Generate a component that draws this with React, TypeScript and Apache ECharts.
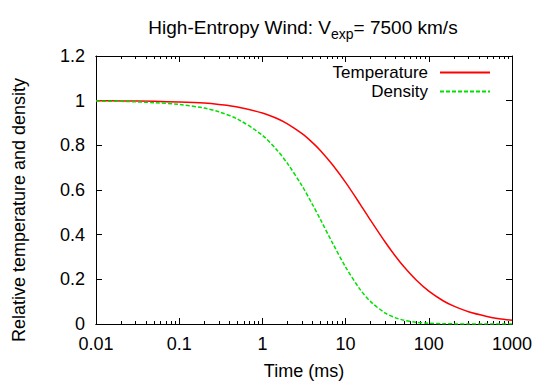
import React, { useEffect, useRef } from "react";
import * as echarts from "echarts";

const timeMs = [0.01, 0.02, 0.05, 0.1, 0.2, 0.3, 0.5, 1, 1.5, 2, 3, 4, 5, 7, 10, 15, 20, 30, 40, 50, 70, 100, 150, 200, 300, 500, 700, 1000];
const temperature = [0.9995, 0.999, 0.997, 0.994, 0.989, 0.983, 0.972, 0.945, 0.92, 0.896, 0.852, 0.812, 0.776, 0.712, 0.634, 0.536, 0.464, 0.366, 0.302, 0.257, 0.198, 0.147, 0.103, 0.08, 0.055, 0.034, 0.024, 0.017];
const density = [0.998, 0.997, 0.991, 0.983, 0.967, 0.95, 0.918, 0.845, 0.778, 0.719, 0.618, 0.535, 0.467, 0.361, 0.255, 0.154, 0.1, 0.049, 0.0275, 0.017, 0.0078, 0.0032, 0.0011, 0.0005, 0.00017, 0.00004, 0.000014, 0.000005];
const minorTicks = [
  0.02, 0.03, 0.04, 0.05, 0.06, 0.07, 0.08, 0.09,
  0.2, 0.3, 0.4, 0.5, 0.6, 0.7, 0.8, 0.9,
  2, 3, 4, 5, 6, 7, 8, 9,
  20, 30, 40, 50, 60, 70, 80, 90,
  200, 300, 400, 500, 600, 700, 800, 900,
];
const majorTicks = [0.01, 0.1, 1, 10, 100, 1000];

const FONT = "'Liberation Sans', Arial, sans-serif";

export default function App() {
  const ref = useRef<HTMLDivElement>(null);
  useEffect(() => {
    if (!ref.current) return;
    const chart = echarts.init(ref.current, null, { renderer: "svg" });
    const fmt = (v: number) => String(+Number(v).toPrecision(6));
    const baseX = {
      type: "log" as const,
      logBase: 10,
      min: 0.01,
      max: 1000,
      splitLine: { show: false },
      axisLine: { show: true, lineStyle: { color: "#000", width: 1 } },
    };
    const option: any = {
      animation: false,
      textStyle: { fontFamily: FONT },
      title: {
        text: "{a|High-Entropy Wind: V}{sub|exp}{a|= 7500 km/s}",
        left: 298,
        top: 13,
        textAlign: "center",
        textStyle: {
          fontWeight: "normal",
          rich: {
            a: { fontSize: 19, lineHeight: 19, verticalAlign: "top", color: "#000", fontFamily: FONT, fontWeight: "normal" },
            sub: { fontSize: 14, lineHeight: 14, verticalAlign: "top", padding: [9, 0, 0, 0], color: "#000", fontFamily: FONT, fontWeight: "normal" },
          },
        },
      },
      legend: {
        orient: "vertical",
        right: 49,
        top: 59,
        align: "right",
        itemWidth: 50,
        itemHeight: 16,
        itemGap: 2,
        itemStyle: { opacity: 0 },
        textStyle: { fontSize: 17, lineHeight: 16, color: "#000", fontFamily: FONT, padding: [0, 7, 0, 0] },
        data: ["Temperature", "Density"],
      },
      grid: { left: 96, right: 33, top: 56, bottom: 58, containLabel: false, outerBoundsMode: "none" },
      xAxis: [
        {
          ...baseX,
          position: "bottom",
          name: "Time (ms)",
          nameLocation: "middle",
          nameGap: 38,
          nameTextStyle: { fontSize: 18, color: "#000", fontFamily: FONT },
          axisTick: { show: true, inside: true, length: 6, lineStyle: { color: "#000" }, customValues: majorTicks },
          axisLabel: { show: true, fontSize: 18, color: "#000", margin: 11, formatter: fmt, customValues: majorTicks, fontFamily: FONT },
        },
        {
          ...baseX,
          position: "bottom",
          axisTick: { show: true, inside: true, length: 3, lineStyle: { color: "#000" }, customValues: minorTicks },
          axisLabel: { show: false },
        },
        {
          ...baseX,
          position: "top",
          axisTick: { show: true, inside: true, length: 6, lineStyle: { color: "#000" }, customValues: majorTicks },
          axisLabel: { show: false },
        },
        {
          ...baseX,
          position: "top",
          axisTick: { show: true, inside: true, length: 3, lineStyle: { color: "#000" }, customValues: minorTicks },
          axisLabel: { show: false },
        },
      ],
      yAxis: [
        {
          type: "value",
          min: 0,
          max: 1.2,
          interval: 0.2,
          position: "left",
          splitLine: { show: false },
          axisLine: { show: true, lineStyle: { color: "#000", width: 1 } },
          axisTick: { show: true, inside: true, length: 6, lineStyle: { color: "#000" } },
          axisLabel: { fontSize: 18, color: "#000", margin: 11, fontFamily: FONT, formatter: fmt },
        },
        {
          type: "value",
          min: 0,
          max: 1.2,
          interval: 0.2,
          position: "right",
          splitLine: { show: false },
          axisLine: { show: true, lineStyle: { color: "#000", width: 1 } },
          axisTick: { show: true, inside: true, length: 6, lineStyle: { color: "#000" } },
          axisLabel: { show: false },
        },
      ],
      graphic: [
        {
          type: "text",
          x: 19,
          y: 210,
          rotation: Math.PI / 2,
          style: {
            text: "Relative temperature and density",
            fontSize: 18,
            fontFamily: FONT,
            fill: "#000",
            align: "center",
            verticalAlign: "middle",
          },
        },
      ],
      series: [
        {
          name: "Temperature",
          type: "line",
          xAxisIndex: 0,
          yAxisIndex: 0,
          data: timeMs.map((t, i) => [t, temperature[i]]),
          symbol: "none",
          smooth: 0.3,
          lineStyle: { color: "#ff0000", width: 1.5 },
          itemStyle: { color: "#ff0000" },
          z: 3,
        },
        {
          name: "Density",
          type: "line",
          xAxisIndex: 0,
          yAxisIndex: 0,
          data: timeMs.map((t, i) => [t, density[i]]),
          symbol: "none",
          smooth: 0.3,
          lineStyle: { color: "#00e000", width: 1.5, type: [4, 2] },
          itemStyle: { color: "#00e000" },
          z: 4,
        },
      ],
    };
    chart.setOption(option);
    return () => chart.dispose();
  }, []);
  return <div ref={ref} style={{ width: 545, height: 382, position: "absolute", left: 0, top: 0 }} />;
}
